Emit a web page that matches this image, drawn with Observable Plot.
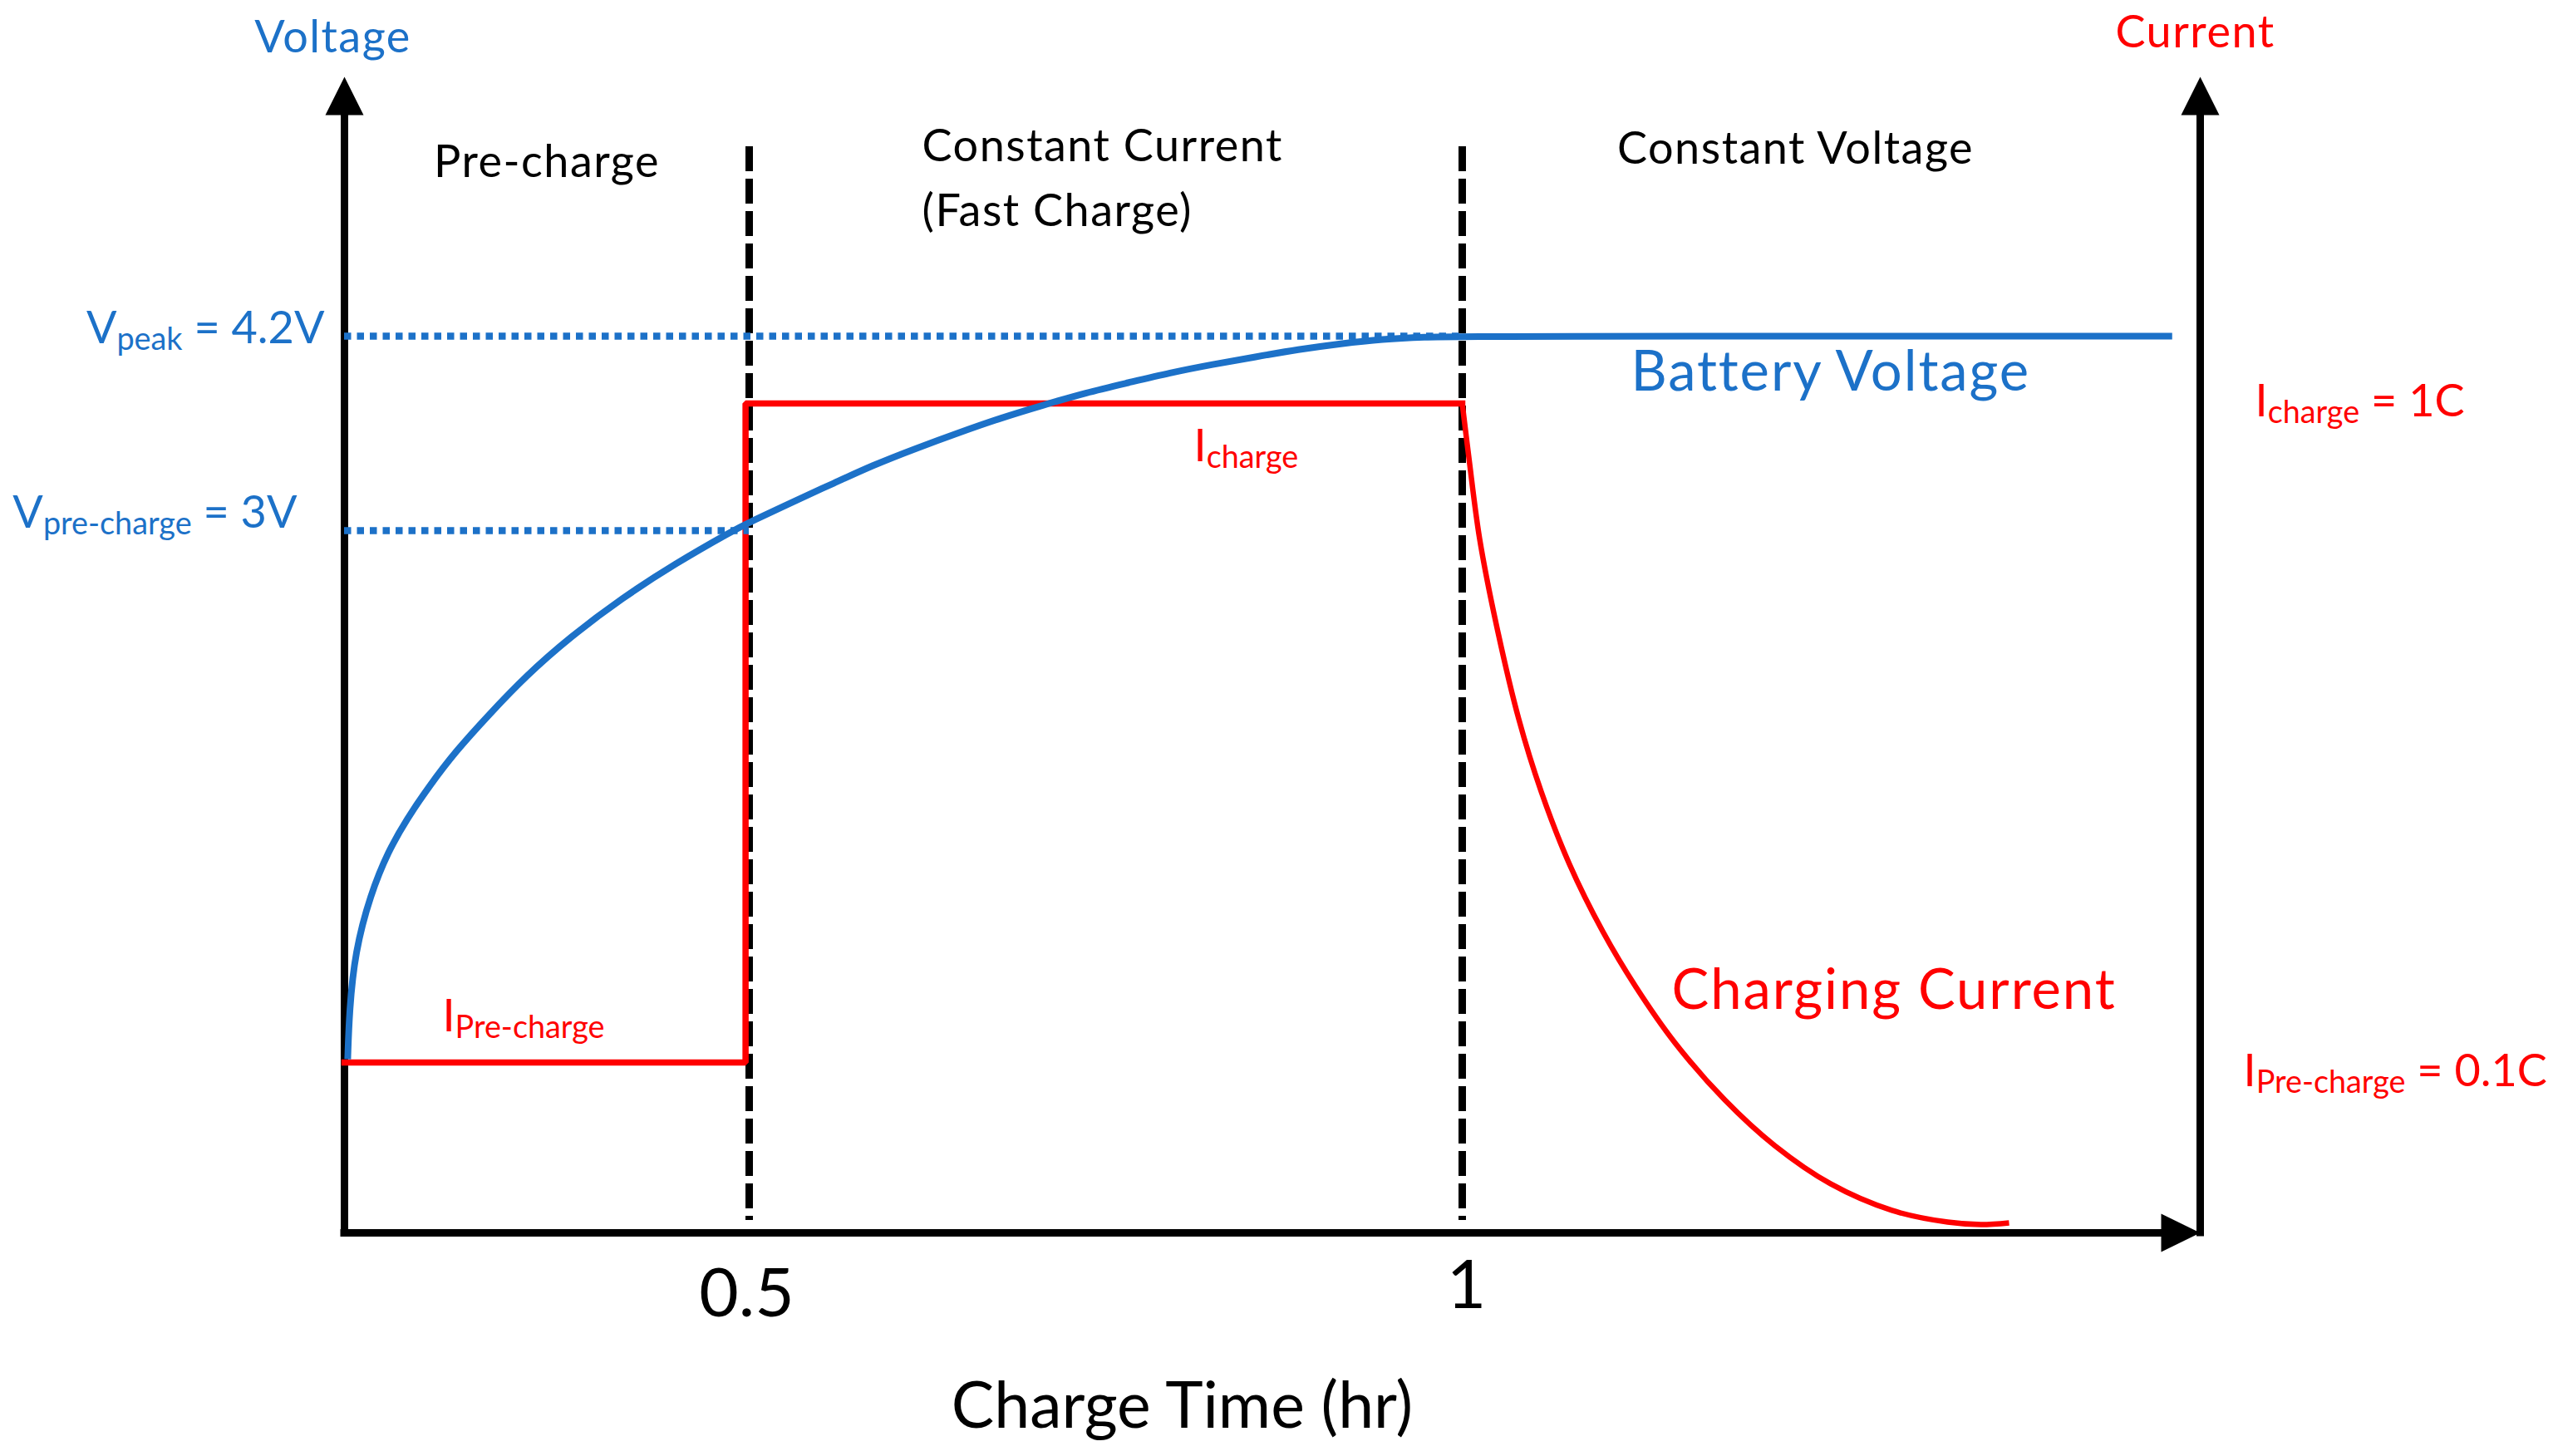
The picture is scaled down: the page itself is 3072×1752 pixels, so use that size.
<!DOCTYPE html>
<html>
<head>
<meta charset="utf-8">
<script src="https://cdn.jsdelivr.net/npm/d3@7"></script>
<script src="https://cdn.jsdelivr.net/npm/@observablehq/plot@0.6"></script>
<style>
  html, body { margin: 0; padding: 0; background: #ffffff; }
  #chart { position: relative; width: 3072px; height: 1752px; overflow: hidden; }
  #chart svg { position: absolute; left: 0; top: 0; }
</style>
</head>
<body>
<div id="chart"></div>
<script>
// ---------------- data ----------------
// charge time (hr) tick values and labels
const xTicks = [0.5, 1];
const xTickLabels = ["0.5", "1"];
// phase boundaries (hr)
const phaseBounds = [0.5, 1];

// battery voltage curve (time in hr, voltage in V)
const voltageTime = [0.004, 0.006, 0.013, 0.032, 0.054, 0.077, 0.105, 0.137, 0.178, 0.224,
  0.279, 0.343, 0.408, 0.480, 0.500, 0.536, 0.558, 0.587, 0.617, 0.647,
  0.677, 0.706, 0.736, 0.766, 0.795, 0.825, 0.855, 0.885, 0.915, 0.944,
  0.974, 1.000, 1.481];
const voltageValue = [0.742, 0.948, 1.200, 1.445, 1.630, 1.768, 1.910, 2.056, 2.212, 2.379,
  2.546, 2.712, 2.858, 3.000, 3.051, 3.200, 3.287, 3.405, 3.508, 3.605,
  3.697, 3.774, 3.851, 3.913, 3.974, 4.026, 4.072, 4.118, 4.154, 4.182,
  4.195, 4.200, 4.200];

// charging current: pre-charge / constant-current steps (C)
const stepTime = [0, 0.4955, 0.4955, 1];
const stepCurrent = [0.1, 0.1, 1, 1];
// charging current: constant-voltage taper (C)
const taperTime = [1.0, 1.0045, 1.0118, 1.0231, 1.0383, 1.0535, 1.0726, 1.0952, 1.1177,
  1.1441, 1.1779, 1.2117, 1.2495, 1.2911, 1.3289, 1.3514, 1.3705];
const taperCurrent = [1.0, 0.926, 0.815, 0.698, 0.569, 0.470, 0.371, 0.279, 0.203,
  0.127, 0.078, 0.0512, 0.0288, 0.0132, 0.0063, 0.0049, 0.0059];

// reference voltage levels (V), where their guide lines end (hr), labels
const voltageRefs = [4.2, 3];
const voltageRefEnds = [1, 0.5];
const voltageRefLabels = ["V_{peak} = 4.2V", "V_{pre-charge} = 3V"];
// reference current levels (C) and labels
const currentRefs = [1, 0.1];
const currentRefLabels = ["I_{charge} = 1C", "I_{Pre-charge} = 0.1C"];
const currentInnerLabels = ["I_{charge}", "I_{Pre-charge}"];
// phase names and other texts
const phaseNames = ["Pre-charge", "Constant Current\n(Fast Charge)", "Constant Voltage"];
const axisTitles = ["Voltage", "Current", "Charge Time (hr)"];
const seriesNames = ["Battery Voltage", "Charging Current"];

// ---------------- tables ----------------
const voltageData = voltageTime.map((t, i) => ({t, v: voltageValue[i]}));
const stepData = stepTime.map((t, i) => ({t, i: stepCurrent[i]}));
const taperData = taperTime.map((t, i) => ({t, i: taperCurrent[i]}));
const vRefData = voltageRefs.map((v, i) => ({v, end: voltageRefEnds[i], label: voltageRefLabels[i]}));
const iRefData = currentRefs.map((c, i) => ({c, label: currentRefLabels[i]}));
const tickData = xTicks.map((t, i) => ({t, label: xTickLabels[i]}));

// ---------------- styling ----------------
const W = 3072, H = 1752;
const BLUE = "#1c71c8", RED = "#ff0000", BLACK = "#000000";
const FONT = "Lato";
const FS = 54;
const frame = {width: W, height: H, marginLeft: 414, marginRight: 425, marginTop: 92, marginBottom: 269};
const xScale = {type: "linear", domain: [0, 0.5, 1, 1.5], range: [414, 901, 1759, 2647], axis: null};

const arrowUp = {draw(ctx) { ctx.moveTo(0, 0); ctx.lineTo(23, 46); ctx.lineTo(-23, 46); ctx.closePath(); }};
const arrowRight = {draw(ctx) { ctx.moveTo(0, 0); ctx.lineTo(-47, -23); ctx.lineTo(-47, 23); ctx.closePath(); }};

const txt = (o) => ({fontFamily: FONT, lineAnchor: "bottom", ...o});

// ---------------- current plot (bottom layer) ----------------
const currentPlot = Plot.plot({
  ...frame,
  style: {background: "white", fontFamily: FONT},
  x: xScale,
  y: {type: "linear", domain: [0, 0.1, 1], range: [1483, 1278, 485], axis: null},
  marks: [
    // phase boundaries
    Plot.ruleX(phaseBounds, {stroke: BLACK, strokeWidth: 9, strokeDasharray: "30,9", insetTop: 84, insetBottom: 15}),
    // axes
    Plot.ruleX([0, 1.5], {stroke: BLACK, strokeWidth: 9, insetTop: 46, strokeLinecap: "square"}),
    Plot.ruleY([0], {stroke: BLACK, strokeWidth: 9, insetRight: 45, strokeLinecap: "square"}),
    Plot.dot([0], {frameAnchor: "top-left", symbol: arrowUp, fill: BLACK, stroke: "none"}),
    Plot.dot([0], {frameAnchor: "top-right", symbol: arrowUp, fill: BLACK, stroke: "none"}),
    Plot.dot([0], {frameAnchor: "bottom-right", symbol: arrowRight, fill: BLACK, stroke: "none"}),
    // charging current
    Plot.line(stepData, {x: "t", y: "i", stroke: RED, strokeWidth: 7.5, curve: "linear",
      strokeLinejoin: "miter", strokeLinecap: "square"}),
    Plot.line(taperData, {x: "t", y: "i", stroke: RED, strokeWidth: 6.5, curve: "catmull-rom",
      strokeLinecap: "butt"}),
    // phase names
    Plot.text([phaseNames[0]], txt({x: 0.25, frameAnchor: "top", dy: 120, text: d => d,
      fontSize: FS, fill: BLACK, textAnchor: "middle"})),
    Plot.text([phaseNames[1]], txt({x: 0.6212, frameAnchor: "top", dy: 179, text: d => d,
      fontSize: FS, fill: BLACK, textAnchor: "start", lineHeight: 1.444})),
    Plot.text([phaseNames[2]], txt({x: 1.2258, frameAnchor: "top", dy: 104, text: d => d,
      fontSize: FS, fill: BLACK, textAnchor: "middle"})),
    // x ticks and title
    Plot.text([tickData[0]], txt({x: "t", text: "label", frameAnchor: "bottom", dy: 100, dx: -3,
      fontSize: 82, fill: BLACK, textAnchor: "middle"})),
    Plot.text([tickData[1]], txt({x: "t", text: "label", frameAnchor: "bottom", dy: 90, dx: 5,
      fontSize: 82, fill: BLACK, textAnchor: "middle"})),
    Plot.text([axisTitles[2]], txt({x: 0.8036, frameAnchor: "bottom", dy: 234, text: d => d,
      fontSize: 77, fill: BLACK, textAnchor: "middle"})),
    // current axis title
    Plot.text([axisTitles[1]], txt({frameAnchor: "top-right", dx: -6, dy: -36, text: d => d,
      fontSize: FS, fill: RED, textAnchor: "middle"})),
    // current reference labels on the right
    Plot.text([iRefData[0]], txt({x: 1.5, y: "c", text: "label", dx: 66, dy: 15,
      fontSize: FS, fill: RED, textAnchor: "start"})),
    Plot.text([iRefData[1]], txt({x: 1.5, y: "c", text: "label", dx: 52, dy: 28,
      fontSize: FS, fill: RED, textAnchor: "start"})),
    // inner current labels
    Plot.text([{c: currentRefs[0], label: currentInnerLabels[0]}], txt({x: 0.8118, y: "c", text: "label", dy: 69,
      fontSize: FS, fill: RED, textAnchor: "start"})),
    Plot.text([{c: currentRefs[1], label: currentInnerLabels[1]}], txt({x: 0.1211, y: "c", text: "label", dy: -38,
      fontSize: FS, fill: RED, textAnchor: "start"})),
    Plot.text([{c: currentRefs[1], label: seriesNames[1]}], txt({x: 1.1419, y: "c", text: "label", dy: -65,
      fontSize: 67, fill: RED, textAnchor: "start"}))
  ]
});

// ---------------- voltage plot (top layer) ----------------
const voltagePlot = Plot.plot({
  ...frame,
  style: {background: "transparent", fontFamily: FONT},
  x: xScale,
  y: {type: "linear", domain: [0, 3, 4.2], range: [1483, 638, 404], axis: null},
  marks: [
    Plot.ruleY(vRefData, {y: "v", x1: 0, x2: "end", stroke: BLUE, strokeWidth: 8.5, strokeDasharray: "8.5,7"}),
    Plot.line(voltageData, {x: "t", y: "v", stroke: BLUE, strokeWidth: 8, curve: "basis", strokeLinecap: "butt"}),
    Plot.text([axisTitles[0]], txt({frameAnchor: "top-left", dx: -14, dy: -30, text: d => d,
      fontSize: FS, fill: BLUE, textAnchor: "middle"})),
    Plot.text([vRefData[0]], txt({x: 0, y: "v", text: "label", dx: -24, dy: 8,
      fontSize: FS, fill: BLUE, textAnchor: "end"})),
    Plot.text([vRefData[1]], txt({x: 0, y: "v", text: "label", dx: -57, dy: -4,
      fontSize: FS, fill: BLUE, textAnchor: "end"})),
    Plot.text([{v: voltageRefs[0], label: seriesNames[0]}], txt({x: 1.1143, y: "v", text: "label", dy: 65,
      fontSize: 67, fill: BLUE, textAnchor: "start"}))
  ]
});

const chart = document.getElementById("chart");
chart.appendChild(currentPlot);
chart.appendChild(voltagePlot);

// ---------------- subscripts: "X_{sub} rest" -> tspans ----------------
function applySubscripts(svg) {
  svg.querySelectorAll("text").forEach(t => {
    const s = t.textContent;
    if (!s.includes("_{")) return;
    const fs = parseFloat(getComputedStyle(t).fontSize) || FS;
    const shift = fs * 0.15;
    const parts = s.split(/(_\{[^}]*\})/).filter(p => p.length);
    t.textContent = "";
    let down = false;
    parts.forEach(p => {
      const ts = document.createElementNS("http://www.w3.org/2000/svg", "tspan");
      if (p.startsWith("_{")) {
        ts.textContent = p.slice(2, -1);
        ts.setAttribute("font-size", (fs * 0.7) + "px");
        ts.setAttribute("dy", shift);
        down = true;
      } else {
        ts.textContent = p;
        if (down) { ts.setAttribute("dy", -shift); down = false; }
      }
      t.appendChild(ts);
    });
  });
}
// slightly wider tracking so Lato matches the reference text widths
function applyTracking(svg) {
  const names = new Set([...phaseNames.flatMap(p => p.split("\n")), axisTitles[0], axisTitles[1], ...seriesNames]);
  svg.querySelectorAll("text").forEach(t => {
    const s = t.textContent;
    const hit = names.has(s) || [...t.querySelectorAll("tspan")].some(ts => names.has(ts.textContent));
    if (!hit) return;
    const fs = parseFloat(getComputedStyle(t).fontSize) || FS;
    t.style.letterSpacing = (fs > 60 ? 1.9 : 1.5) + "px";
  });
}
[currentPlot, voltagePlot].forEach(svg => { applyTracking(svg); applySubscripts(svg); });
</script>
</body>
</html>
